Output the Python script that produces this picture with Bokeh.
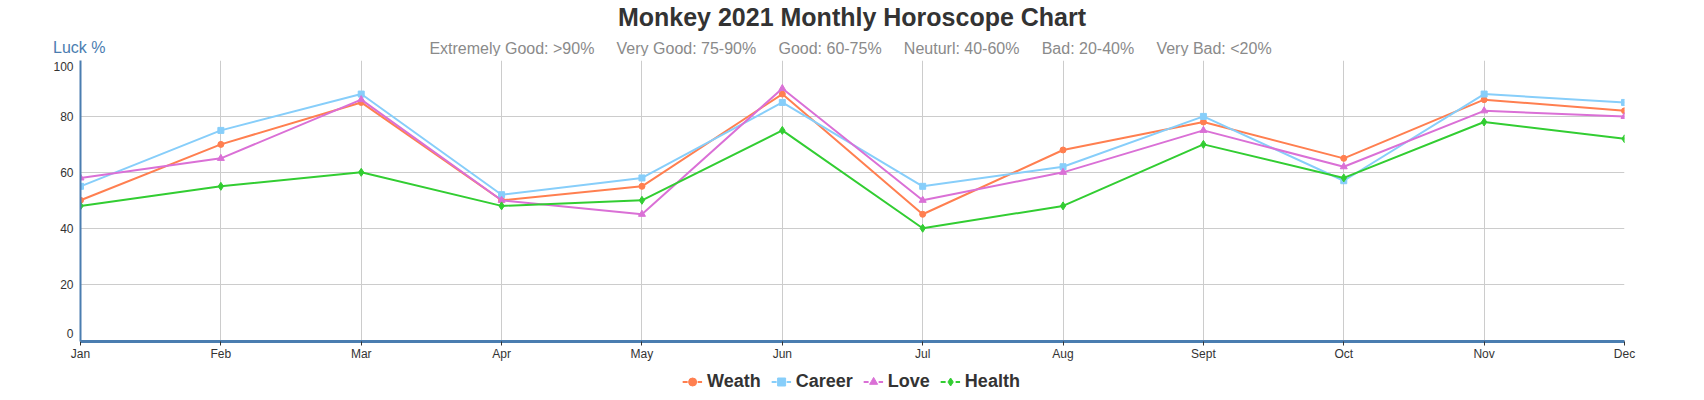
import math
from bokeh.plotting import figure
from bokeh.layouts import column
from bokeh.models import Range1d, FixedTicker, Label, Legend, LegendItem, ColumnDataSource
from bokeh.embed import file_html
from bokeh.resources import INLINE

# ---- data ----
months = ["Jan", "Feb", "Mar", "Apr", "May", "Jun", "Jul", "Aug", "Sept", "Oct", "Nov", "Dec"]
weath = [50, 70, 85, 50, 55, 88, 45, 68, 78, 65, 86, 82]
career = [55, 75, 88, 52, 58, 85, 55, 62, 80, 57, 88, 85]
love = [58, 65, 86, 50, 45, 90, 50, 60, 75, 62, 82, 80]
health = [48, 55, 60, 48, 50, 75, 40, 48, 70, 58, 78, 72]
y_ticks = [0, 20, 40, 60, 80, 100]
series_names = ["Weath", "Career", "Love", "Health"]
series_colors = ["#ff7f50", "#87cefa", "#da70d6", "#32cd32"]
series_markers = ["circle", "square", "triangle", "diamond"]
title_text = "Monkey 2021 Monthly Horoscope Chart"
subtitle_items = ["Extremely Good: >90%", "Very Good: 75-90%", "Good: 60-75%",
                  "Neuturl: 40-60%", "Bad: 20-40%", "Very Bad: <20%"]
y_title = "Luck %"

FONT = "Liberation Sans"
AXIS_COLOR = "#4a7db0"
W = 1696
ML, MR = 80, 72          # frame borders (frames of the stacked figures are aligned)
FW = W - ML - MR

# ---------------- header (titles) ----------------
HH = 56
header = figure(width=W, height=HH, output_backend="svg", toolbar_location=None,
                x_range=Range1d(0, 1), y_range=Range1d(0, HH),
                x_axis_location=None, y_axis_location="left",
                min_border=0, outline_line_color=None)
header.grid.visible = False
hy = header.yaxis[0]
hy.ticker = FixedTicker(ticks=[HH - 48])
hy.major_label_overrides = {HH - 48: y_title}
hy.axis_line_color = None
hy.major_tick_line_color = None
hy.minor_tick_line_color = None
hy.major_tick_out = 0
hy.major_tick_in = 0
hy.major_label_standoff = -25
hy.major_label_text_font = FONT
hy.major_label_text_font_size = "16px"
hy.major_label_text_color = AXIS_COLOR

gap = "\u00a0" * 5
header.add_layout(Label(x=851.5 - ML, y=HH - 16, x_units="screen", y_units="screen", text=title_text,
                        text_align="center", text_baseline="middle", text_font=FONT,
                        text_font_style="bold", text_font_size="25px", text_color="#333333"))
header.add_layout(Label(x=850 - ML, y=HH - 48, x_units="screen", y_units="screen",
                        text=gap.join(subtitle_items),
                        text_align="center", text_baseline="middle", text_font=FONT,
                        text_font_size="16px", text_color="#8a8a8a"))

# ---------------- main chart ----------------
MT, MB = 4, 25
FH = 281
y_lo, y_hi = -0.5, 100
x_idx = list(range(len(months)))
p = figure(width=W, height=MT + FH + MB, output_backend="svg", toolbar_location=None,
           title=None,
           x_range=Range1d(0, len(months) - 1), y_range=Range1d(y_lo, y_hi),
           min_border_left=ML, min_border_right=MR, min_border_top=MT, min_border_bottom=MB)
p.outline_line_color = None

p.xaxis.ticker = FixedTicker(ticks=x_idx)
p.xaxis.major_label_overrides = {i: m for i, m in enumerate(months)}
p.xaxis.axis_line_color = AXIS_COLOR
p.xaxis.axis_line_width = 3
p.xaxis.major_tick_out = 4
p.xaxis.major_tick_in = 0
p.xaxis.major_tick_line_color = "#333333"
p.xaxis.minor_tick_line_color = None
p.xaxis.major_label_standoff = 1
p.xaxis.major_label_text_font = FONT
p.xaxis.major_label_text_font_size = "12px"
p.xaxis.major_label_text_color = "#333333"

# end labels are nudged inward (as in the reference), gridlines stay on the true values
px_per_unit = FH / (y_hi - y_lo)
label_pos = list(y_ticks)
label_pos[0] = y_ticks[0] + 6.5 / px_per_unit
label_pos[-1] = y_ticks[-1] - 5.5 / px_per_unit
p.yaxis.ticker = FixedTicker(ticks=label_pos)
p.yaxis.major_label_overrides = {lp: str(t) for lp, t in zip(label_pos, y_ticks)}
p.yaxis.axis_line_color = AXIS_COLOR
p.yaxis.axis_line_width = 2
p.yaxis.major_tick_out = 0
p.yaxis.major_tick_in = 0
p.yaxis.major_tick_line_color = None
p.yaxis.minor_tick_line_color = None
p.yaxis.major_label_standoff = 7
p.yaxis.major_label_text_font = FONT
p.yaxis.major_label_text_font_size = "12px"
p.yaxis.major_label_text_color = "#333333"

p.xgrid.ticker = FixedTicker(ticks=x_idx)
p.ygrid.ticker = FixedTicker(ticks=y_ticks)
p.xgrid.grid_line_color = "#cccccc"
p.ygrid.grid_line_color = "#cccccc"

all_values = [weath, career, love, health]
marker_sizes = {"circle": 6, "square": 6, "triangle": 7, "diamond": 8}
for name, vals, col, mk in zip(series_names, all_values, series_colors, series_markers):
    src = ColumnDataSource(dict(x=x_idx, y=vals))
    p.line("x", "y", source=src, line_color=col, line_width=2)
    p.scatter("x", "y", source=src, marker=mk, size=marker_sizes[mk], fill_color=col, line_color=col)

# ---------------- footer (legend) ----------------
FTH = 30
footer = figure(width=1694, height=FTH, output_backend="svg", toolbar_location=None,
                x_range=Range1d(0, 1), y_range=Range1d(0, 1),
                x_axis_location=None, y_axis_location=None,
                min_border=0, outline_line_color=None)
footer.grid.visible = False
items = []
for name, col, mk in zip(series_names, series_colors, series_markers):
    lg_line = footer.line([math.nan], [math.nan], line_color=col, line_width=2, line_dash="5 10")
    lg_mark = footer.scatter([math.nan], [math.nan], marker=mk, size=marker_sizes[mk] + 3,
                             fill_color=col, line_color=col)
    items.append(LegendItem(label=name, renderers=[lg_line, lg_mark]))
legend = Legend(items=items, orientation="horizontal", location="center",
                glyph_width=20, glyph_height=20, label_standoff=5, spacing=10,
                padding=0, margin=0, border_line_alpha=0, background_fill_alpha=0,
                label_text_font=FONT, label_text_font_style="bold",
                label_text_font_size="18px", label_text_color="#333333")
footer.add_layout(legend, "center")

layout = column(header, p, footer, spacing=0)
open("out.html", "w").write(file_html(layout, INLINE))
